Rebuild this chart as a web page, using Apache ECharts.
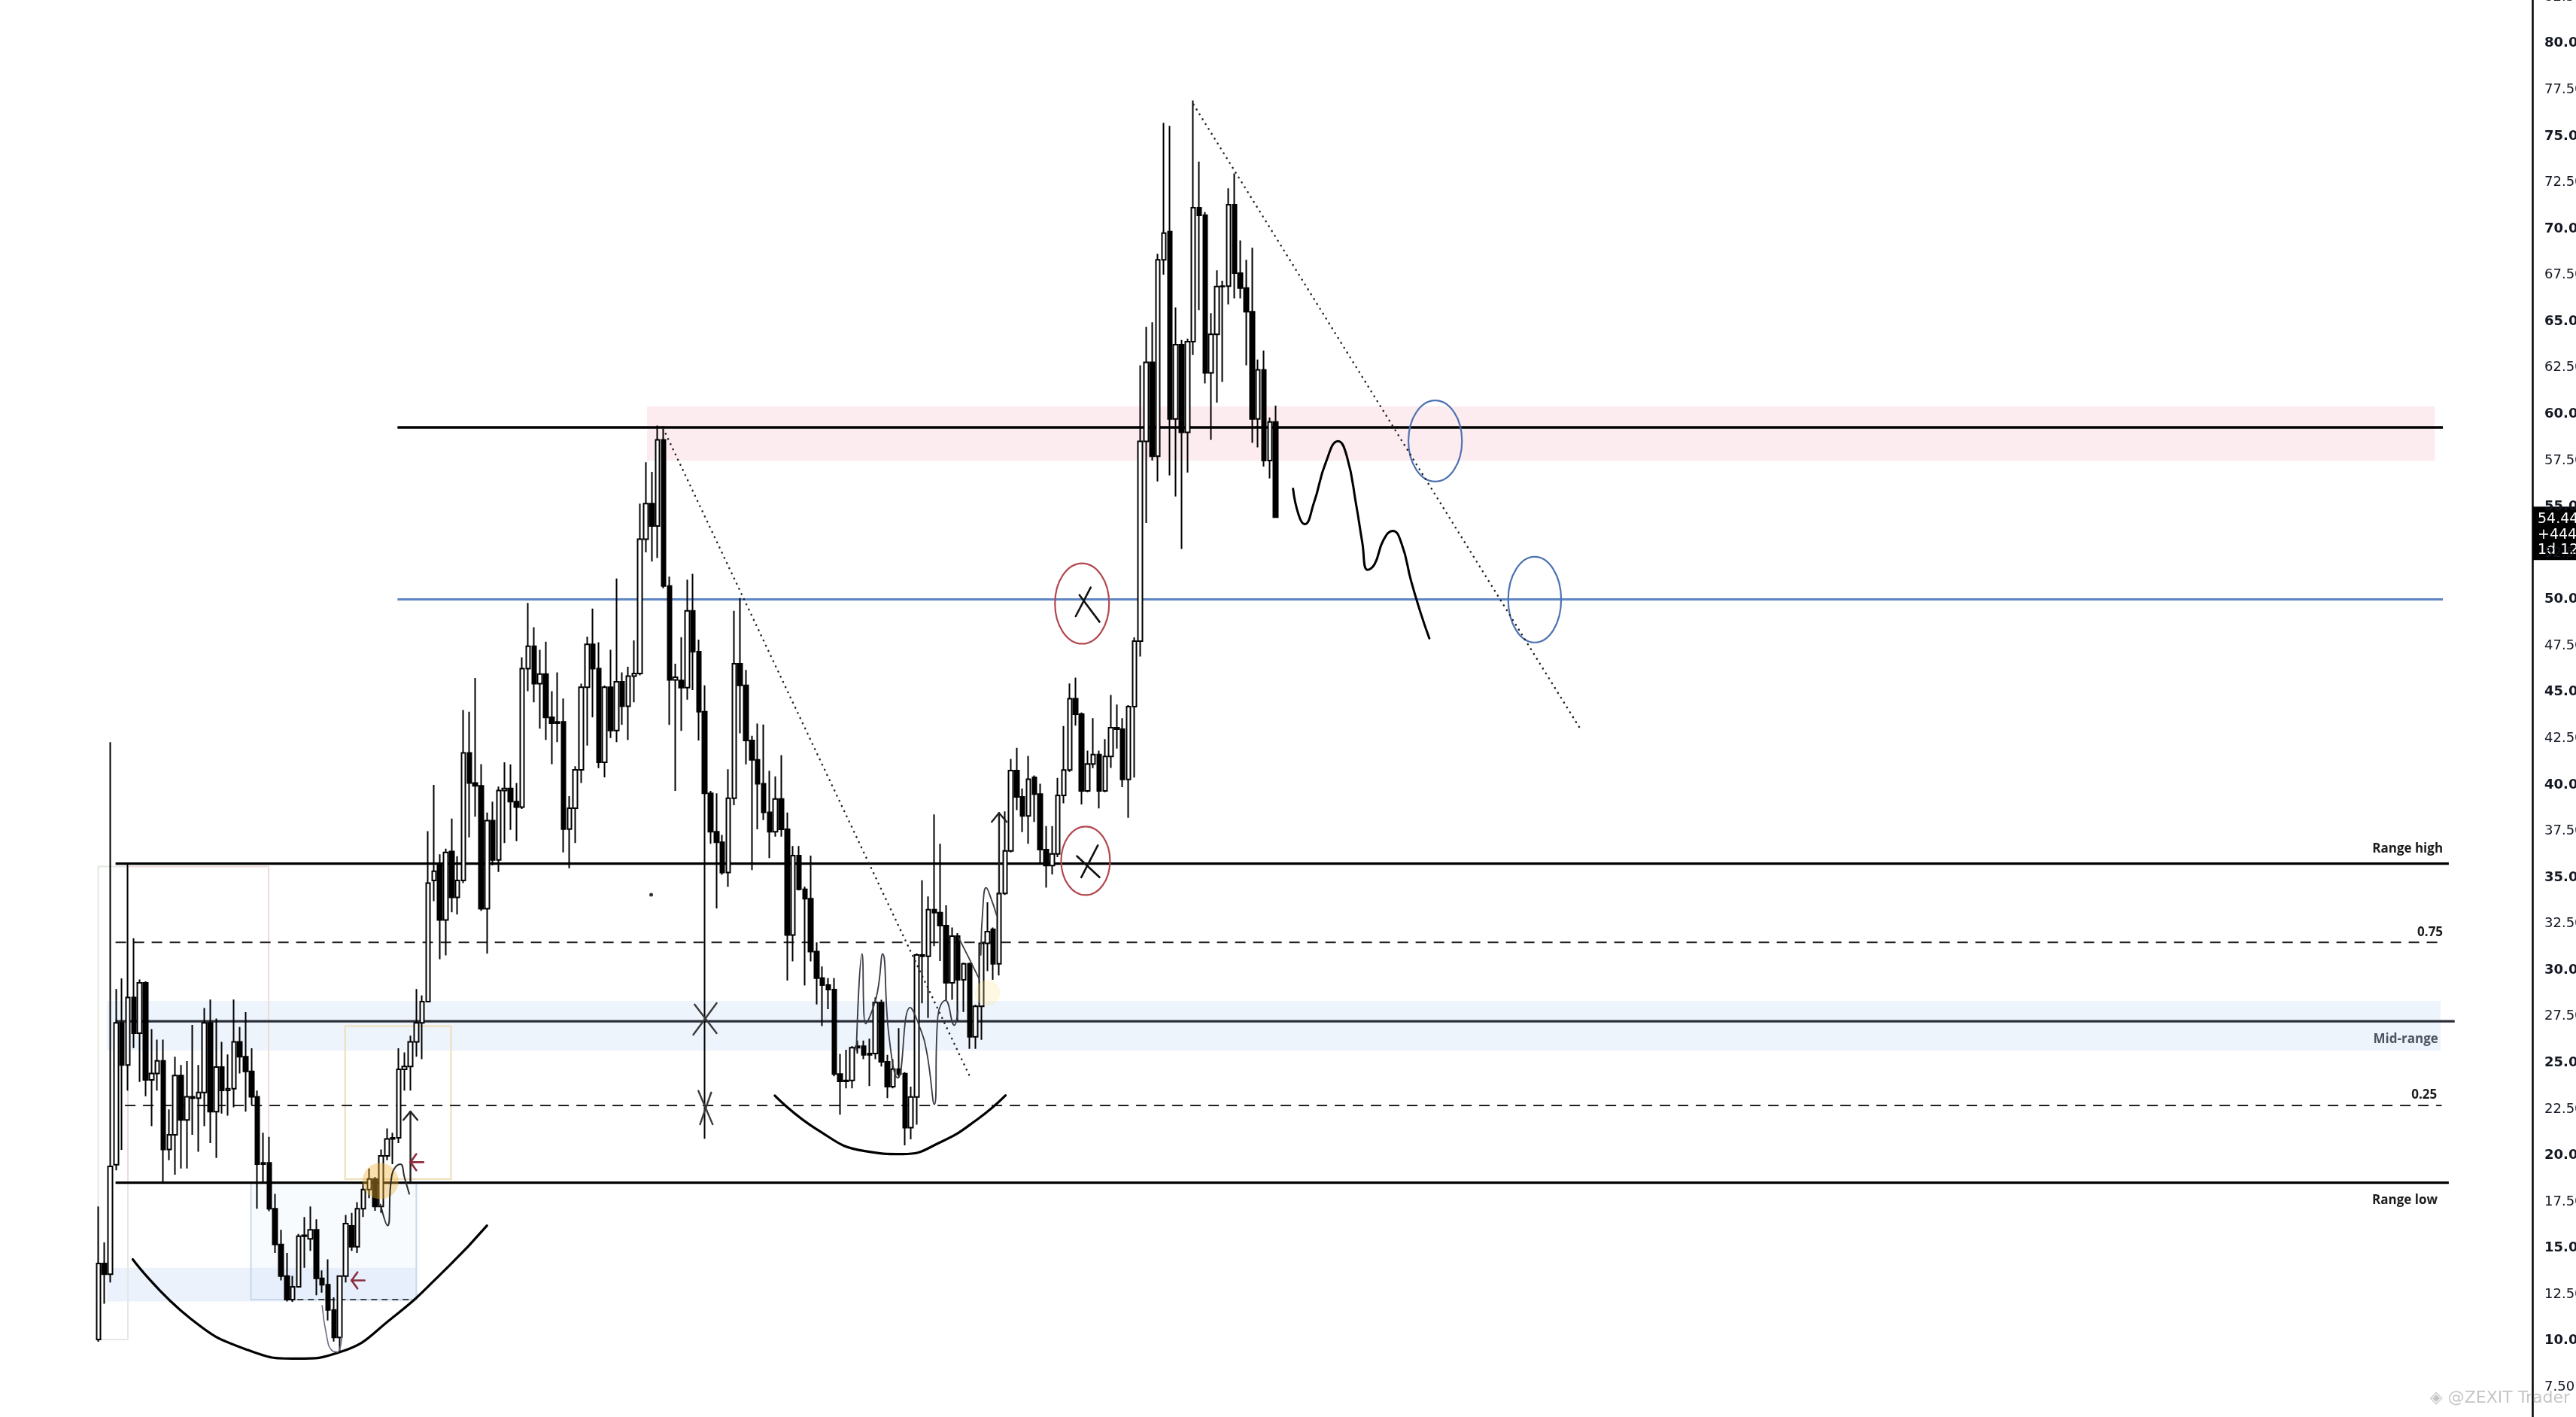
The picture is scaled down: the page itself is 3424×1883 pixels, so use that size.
<!DOCTYPE html>
<html><head><meta charset="utf-8">
<script src="https://cdn.jsdelivr.net/npm/echarts@6/dist/echarts.min.js"></script>
<style>html,body{margin:0;padding:0;background:#fff}#chart{width:3424px;height:1883px}</style>
</head><body><div id="chart"></div>
<script>
// ---- candles: [open, high, low, close] (daily) ----
const candles = [
[10.07,17.25,9.95,14.17],[14.17,15.31,12.0,13.6],[13.6,42.3,13.15,19.41],[19.5,28.98,19.2,27.16],[27.16,29.55,20.3,24.88],
[24.88,35.75,23.5,28.53],[28.53,31.72,25.8,26.6],[26.6,29.5,23.97,29.32],[29.32,29.4,23.2,24.08],[24.08,26.82,21.58,24.43],
[24.43,26.25,23.5,25.11],[25.11,26.25,18.53,20.32],[20.32,22.49,19.75,21.12],[21.12,25.33,18.96,24.31],[24.31,24.88,19.3,21.92],
[21.92,25.1,19.3,23.17],[23.17,27.04,21.12,23.1],[23.1,24.88,20.2,23.4],[23.4,27.96,21.58,27.16],[27.16,28.41,20.67,22.37],
[22.37,27.39,19.87,24.77],[24.77,26.13,22.26,23.51],[23.51,25.45,22.15,23.6],[23.6,28.41,22.6,26.13],[26.13,26.93,24.43,25.33],
[25.33,27.73,22.37,24.54],[24.54,25.79,22.72,23.17],[23.17,23.5,17.13,19.53],[19.53,21.23,18.5,19.6],[19.6,21.0,17.0,17.13],
[17.13,17.93,14.74,15.2],[15.2,15.99,13.26,13.49],[13.49,14.74,12.12,12.23],[12.23,13.5,12.1,12.92],[12.92,15.77,12.9,15.65],
[15.65,16.68,13.94,15.7],[15.5,17.25,14.85,15.99],[15.99,16.56,12.46,13.37],[13.37,13.8,12.6,13.03],[13.03,14.4,11.1,11.67],
[11.67,12.35,9.96,10.18],[10.18,13.5,9.39,13.49],[13.49,16.79,13.15,16.33],[16.2,16.9,14.85,15.08],[15.08,17.48,14.74,17.13],
[17.13,18.5,16.68,18.16],[18.16,19.3,17.7,18.73],[18.73,18.84,17.02,17.25],[17.25,20.32,16.9,19.98],[19.98,21.46,19.75,20.89],
[20.89,21.23,19.53,20.95],[20.95,25.79,20.67,24.65],[24.65,25.56,23.5,24.8],[24.8,26.47,23.5,26.13],[26.13,28.98,25.33,27.16],
[27.16,28.64,25.2,28.3],[28.3,37.5,28.3,34.7],[34.84,40.0,33.72,35.34],[35.65,36.25,30.59,32.71],[32.71,36.55,30.8,36.35],
[36.4,38.18,33.12,33.93],[33.93,36.15,33.0,34.84],[34.84,44.04,34.7,41.72],[41.72,43.94,37.16,40.1],[40.1,45.76,38.28,39.95],
[39.95,41.11,33.2,33.32],[33.32,38.5,30.89,38.07],[38.07,39.09,35.65,35.95],[35.95,39.9,35.3,39.69],[39.69,41.21,36.86,39.8],
[39.8,41.1,37.57,39.09],[39.09,40.1,36.96,38.8],[38.8,46.88,38.7,46.27],[46.27,49.81,45.05,47.48],[47.48,48.5,44.45,45.46],
[45.46,47.28,43.03,45.97],[45.97,47.72,42.42,43.64],[43.64,45.05,41.11,43.33],[43.33,46.07,42.3,43.4],[43.4,44.65,36.35,37.61],
[37.61,39.39,35.5,38.74],[38.74,41.0,36.86,40.81],[40.81,45.46,40.1,45.26],[45.26,47.99,42.12,47.58],[47.58,49.51,43.64,46.27],
[46.27,47.69,40.9,41.21],[41.21,45.36,40.4,45.26],[45.26,47.28,42.52,42.93],[42.93,51.13,42.3,45.56],[45.56,46.07,43.23,44.24],
[44.24,46.37,42.42,45.86],[45.86,47.79,44.45,46.0],[46.0,55.17,45.9,53.25],[53.25,57.4,52.54,55.17],[55.17,56.89,52.04,53.96],
[53.96,59.38,52.24,58.61],[58.61,59.35,50.6,50.72],[50.72,51.23,43.23,45.66],[45.66,46.53,39.67,45.8],[45.63,47.96,42.91,45.24],
[45.24,51.07,44.59,49.38],[49.38,51.38,45.11,47.18],[47.18,47.83,42.39,43.94],[43.94,45.37,20.9,39.54],[39.54,39.67,36.82,37.47],
[37.47,39.54,33.33,36.9],[36.9,37.3,35.14,35.27],[35.27,40.84,34.49,39.28],[39.28,49.38,38.9,46.53],[46.53,50.08,42.78,45.37],
[45.37,46.2,41.1,42.39],[42.39,42.65,35.4,41.35],[41.35,43.3,37.6,40.06],[40.06,43.25,38.1,38.51],[38.51,40.76,36.05,37.47],
[37.47,40.45,37.2,39.23],[39.23,41.6,37.2,37.6],[37.6,38.5,29.44,31.9],[31.9,36.7,30.48,36.18],[36.18,36.7,34.3,34.36],
[34.36,34.5,29.18,33.85],[33.85,36.18,30.48,31.0],[31.0,31.5,28.15,29.57],[29.57,30.2,26.98,29.2],[29.2,29.57,27.9,28.95],
[28.95,29.57,24.27,24.4],[24.4,25.48,22.2,24.0],[24.0,25.7,23.62,24.05],[24.05,25.9,23.62,25.82],[25.82,26.2,25.5,25.9],
[25.9,26.2,25.2,25.43],[25.43,26.3,23.75,25.5],[25.5,28.54,25.2,28.25],[28.25,28.4,24.8,25.05],[25.05,25.43,23.1,23.72],
[23.72,25.2,23.62,24.66],[24.66,26.87,24.2,24.4],[24.42,24.5,20.55,21.5],[21.5,23.71,20.87,23.16],[23.16,30.9,21.66,30.82],
[30.82,34.85,28.21,30.75],[30.75,33.98,27.42,33.27],[33.27,38.4,31.3,33.1],[33.1,36.82,30.5,32.4],[32.4,33.5,28.37,29.32],
[29.32,32.3,28.4,31.84],[31.84,32.0,27.26,29.48],[29.48,30.4,27.74,30.34],[30.34,30.4,25.76,26.4],[26.4,28.13,25.76,28.05],
[28.05,31.53,26.24,31.45],[31.45,33.66,29.95,32.08],[32.2,32.3,29.48,30.34],[30.34,34.2,29.71,34.14],[34.14,38.56,34.06,36.43],
[36.43,41.4,36.35,40.77],[40.77,42.0,38.64,39.35],[39.35,39.8,37.45,38.32],[38.32,41.56,36.82,40.3],[40.4,40.5,38.0,39.5],
[39.5,40.06,35.8,36.5],[36.5,37.77,34.45,35.64],[35.64,37.77,35.16,36.27],[36.27,40.37,36.1,39.43],[39.43,43.17,39.0,40.8],
[40.8,45.47,40.7,44.64],[44.64,45.78,43.19,43.81],[43.81,43.9,38.94,39.67],[39.67,41.84,39.6,41.12],[41.12,43.6,40.9,41.63],
[41.63,41.84,38.73,39.67],[39.67,42.46,39.6,41.53],[41.53,44.85,40.91,43.08],[43.08,44.33,41.95,43.0],[43.0,43.6,39.87,40.29],
[40.29,44.3,38.22,44.22],[44.22,47.95,40.39,47.75],[47.75,62.63,46.92,58.53],[58.53,64.71,54.12,62.79],[62.79,64.96,57.49,57.73],
[57.73,68.65,56.37,68.33],[68.33,75.71,67.52,69.77],[69.85,75.55,56.69,59.74],[59.74,65.76,55.56,63.75],[63.75,64.0,52.72,59.02],
[59.02,64.07,56.85,63.91],[63.91,76.92,63.19,71.14],[71.14,73.62,65.6,70.73],[70.73,70.9,61.66,62.23],[62.23,65.44,58.61,64.31],
[64.31,67.76,60.62,66.88],[66.88,67.2,61.74,66.9],[66.9,72.18,65.92,71.3],[71.3,72.98,66.24,67.6],[67.6,69.37,66.24,66.8],
[66.8,68.33,62.63,65.52],[65.52,68.97,58.45,59.74],[59.74,62.95,58.21,62.39],[62.39,63.43,57.17,57.49],[57.49,59.82,56.53,59.58],
[59.58,60.46,54.4,54.44]
];
const SLOTS = 414;                         // bar slots on the time axis (candles + empty future)
const categories = [];
for (let i = 0; i < SLOTS; i++) categories.push('D' + (i + 1));

// ---- horizontal levels ----
const resistanceLevel = 59.28;
const blueLevel = 50.0;
const rangeHigh = 35.75;
const level075 = 31.5;
const midRange = 27.24;
const level025 = 22.7;
const rangeLow = 18.53;
const resistanceSpan = [50.8, 398.3];
const rangeHighSpan = [2.9, 399.3];
const level075Span = [2.9, 398.0];
const midSpan = [2.9, 400.3];
const level025Span = [4.5, 398.1];
const rangeLowSpan = [2.9, 399.3];
const levelLabelTexts = ['Range high', '0.75', 'Mid-range', '0.25', 'Range low'];
const levelLabelAnchors = [[398.3, rangeHigh], [398.3, level075], [397.5, midRange], [397.3, level025], [397.4, rangeLow]];

// ---- zones [x1, y1, x2, y2] in bar index / price ----
const supplyZone = [[93.2, 57.48, 396.9, 60.42]];
const midZone = [[1.4, 25.66, 397.9, 28.34]];
const lowZone = [[1.4, 12.12, 54.0, 13.94]];
const greyBox = [[-0.05, 10.07, 5.0, 35.59]];
const pinkBox = [[5.0, 18.53, 28.9, 35.59]];
const blueBox = [[25.9, 12.23, 54.0, 18.53]];
const yellowBox = [[41.9, 18.73, 59.9, 26.98]];
const blueCircles = [[222.55, 56.36, 231.65, 60.74], [239.5, 47.68, 248.5, 52.3]];
const redCircles = [[162.5, 47.61, 171.7, 51.95], [163.55, 34.05, 171.85, 37.75]];
const highlightSpots = [[47.9, 18.62]];
const faintSpots = [[151.0, 28.77]];
const dotMark = [[93.9, 34.07]];

// ---- drawn strokes ----
const trendLineA = [[95.95, 59.22], [147.9, 24.35]];
const trendLineB = [[186.05, 76.7], [252.0, 42.89]];
const arcLeft = [[5.82,14.4],[15.6,11.21],[25.4,9.5],[33.7,9.04],[41.0,9.39],[49.8,11.21],[59.6,14.06],[66.0,16.22]];
const arcMid = [[114.9,23.23],[122,21.42],[130.2,20.24],[136.6,20.08],[143,20.71],[149.4,21.97],[154.1,23.24]];
const projectionPath = [[202.95,55.97],[203.9,54.56],[204.9,54.06],[206.5,55.22],[208.5,57.38],[210.6,58.54],[212.1,57.71],[213.7,55.06],[214.7,53.1],[215.6,51.6],[216.8,51.9],[218.3,53.2],[219.9,53.7],[221.4,53.0],[223.0,51.0],[224.6,49.3],[226.1,47.9]];
const squiggleA = [[128.75,25.69],[129.73,30.87],[130.33,27.11],[132.15,28.54],[133.22,30.87],[134.29,26.47],[135.8,24.18],[137.9,27.98],[139.4,27.03],[140.7,25.6],[142.0,22.76],[142.6,27.5],[143.9,28.37],[145.4,27.03],[146.0,27.82]];
const squiggleB = [[146.1,31.77],[147.8,30.7],[149.6,29.55]];
const squiggleC = [[149.9,30.82],[150.3,33.6],[150.8,34.45],[151.6,33.9],[152.6,32.95]];
const squiggleD = [[47.9,17.36],[49.1,16.22],[49.85,18.96],[51.3,19.53],[52.0,18.8],[52.8,17.93]];
const squiggleE = [[38.0,11.9],[38.8,10.2],[39.6,9.5],[40.6,9.4],[41.3,10.2]];
const crossMarks = [[101.06,26.52,105.02,28.22],[101.27,28.15,105.02,26.6],[101.91,23.49,104.34,21.68],[102.2,21.68,104.1,23.4]];
const circleCrosses = [[166.02,49.09,168.57,50.65],[166.66,50.24,170.07,48.79],[166.97,35.01,169.78,36.73],[166.24,36.15,170.07,35.01]];
const upArrows = [[53.0,18.61,53.0,22.37],[51.8,21.92,53.0,22.37],[53.0,22.37,54.2,21.92],[153.0,34.13,153.0,38.48],[151.75,38.0,153.0,38.48],[153.0,38.48,154.3,38.0]];
const redArrows = [[43.0,13.26,45.2,13.26],[43.0,13.26,44.0,13.7],[43.0,13.26,44.0,12.82],[53.0,19.64,55.2,19.64],[53.0,19.64,54.0,20.08],[53.0,19.64,54.0,19.2]];
const lowDashed = [[32.0, 12.23], [53.8, 12.23]];

const priceTagLines = ['54.44', '+444.00%', '1d 12h'];
const watermarkText = '◈ @ZEXIT Trader';

// ---------- helpers ----------
function hLine(v, span, color, width, type, z) {
  return { type: 'line', xAxisIndex: 1, yAxisIndex: 0, silent: true, symbol: 'none', z: z || 3,
    data: [[span[0], v], [span[1], v]], lineStyle: { color, width, type: type || 'solid' } };
}
function path(data, color, width, opts) {
  opts = opts || {};
  return { type: 'line', xAxisIndex: 1, yAxisIndex: 0, silent: true, symbol: 'none', z: opts.z || 6,
    smooth: opts.smooth === undefined ? 0.4 : opts.smooth, data,
    lineStyle: { color, width, type: opts.type || 'solid', cap: opts.cap || 'round', join: 'round' } };
}
function rects(rows, style, z) {
  return { type: 'custom', xAxisIndex: 1, yAxisIndex: 0, silent: true, z, data: rows,
    renderItem: (p, api) => {
      const a = api.coord([api.value(0), api.value(1)]), b = api.coord([api.value(2), api.value(3)]);
      return { type: 'rect', shape: { x: Math.min(a[0], b[0]), y: Math.min(a[1], b[1]),
        width: Math.abs(b[0] - a[0]), height: Math.abs(b[1] - a[1]) }, style };
    } };
}
function ellipses(rows, style, z) {
  return { type: 'custom', xAxisIndex: 1, yAxisIndex: 0, silent: true, z, data: rows,
    renderItem: (p, api) => {
      const a = api.coord([api.value(0), api.value(1)]), b = api.coord([api.value(2), api.value(3)]);
      return { type: 'ellipse', shape: { cx: (a[0] + b[0]) / 2, cy: (a[1] + b[1]) / 2,
        rx: Math.abs(b[0] - a[0]) / 2, ry: Math.abs(b[1] - a[1]) / 2 }, style };
    } };
}
function segments(rows, style, z) {
  return { type: 'custom', xAxisIndex: 1, yAxisIndex: 0, silent: true, z, data: rows,
    renderItem: (p, api) => {
      const a = api.coord([api.value(0), api.value(1)]), b = api.coord([api.value(2), api.value(3)]);
      return { type: 'line', shape: { x1: a[0], y1: a[1], x2: b[0], y2: b[1] }, style };
    } };
}
const labelDy = [-11, -5, 15, -5, 15];
const labelVAlign = ['bottom', 'bottom', 'top', 'bottom', 'top'];
const labelColor = ['#1c1c1c', '#1c1c1c', '#4d5360', '#1c1c1c', '#1c1c1c'];

const chart = echarts.init(document.getElementById('chart'), null, { renderer: 'canvas', width: 3424, height: 1883 });
const option = {
  animation: false,
  backgroundColor: '#ffffff',
  grid: { left: 127, right: 58, top: -65.45, bottom: -21.95, containLabel: false, outerBoundsMode: 'none' },
  xAxis: [
    { type: 'category', data: categories, boundaryGap: true, show: false },
    { type: 'value', min: -0.5, max: SLOTS - 0.5, show: false }
  ],
  yAxis: {
    type: 'value', position: 'right', min: 5, max: 85, interval: 2.5, scale: false,
    axisLine: { show: true, onZero: false, lineStyle: { color: '#000', width: 2.5 } },
    axisTick: { show: false }, splitLine: { show: false },
    axisLabel: {
      margin: 16, fontSize: 18, fontFamily: 'DejaVu Sans', color: '#131722',
      formatter: v => (Math.abs(v % 5) < 1e-9 ? '{b|' : '{n|') + v.toFixed(2) + '}',
      rich: {
        b: { fontWeight: 'bold', fontSize: 18, fontFamily: 'DejaVu Sans', color: '#131722' },
        n: { fontWeight: 'normal', fontSize: 18, fontFamily: 'DejaVu Sans', color: '#131722' }
      }
    }
  },
  series: [
    rects(supplyZone, { fill: 'rgba(242,120,140,0.14)' }, 1),
    rects(midZone, { fill: 'rgba(120,170,235,0.13)' }, 1),
    rects(lowZone, { fill: 'rgba(120,170,235,0.15)' }, 1),
    rects(greyBox, { fill: 'none', stroke: '#e3e9e2', lineWidth: 2 }, 2),
    rects(pinkBox, { fill: 'none', stroke: '#ecdbd9', lineWidth: 2 }, 2),
    rects(blueBox, { fill: 'rgba(200,220,245,0.12)', stroke: '#c7d8ec', lineWidth: 2 }, 2),
    rects(yellowBox, { fill: 'none', stroke: '#eee0bd', lineWidth: 2.2 }, 2),
    hLine(resistanceLevel, resistanceSpan, '#000', 3.5),
    hLine(blueLevel, resistanceSpan, '#5f86c4', 3),
    hLine(rangeHigh, rangeHighSpan, '#000', 3.2),
    hLine(level075, level075Span, '#222', 2, [14, 10]),
    hLine(midRange, midSpan, '#2a2e39', 3.2),
    hLine(level025, level025Span, '#222', 2, [14, 10]),
    hLine(rangeLow, rangeLowSpan, '#000', 3.2),
    path(lowDashed, '#333', 1.6, { type: [8, 6], smooth: false, cap: 'butt', z: 3 }),
    {
      type: 'candlestick', xAxisIndex: 0, yAxisIndex: 0, z: 4, silent: true, barWidth: 6,
      data: candles.map(c => [c[0], c[3], c[2], c[1]]),
      itemStyle: { color: '#ffffff', color0: '#000000', borderColor: '#000000', borderColor0: '#000000',
        borderColorDoji: '#000000', borderWidth: 2 }
    },
    { type: 'scatter', xAxisIndex: 1, yAxisIndex: 0, silent: true, z: 5, data: highlightSpots,
      symbol: 'circle', symbolSize: 48, itemStyle: { color: 'rgba(240,178,50,0.5)' } },
    { type: 'scatter', xAxisIndex: 1, yAxisIndex: 0, silent: true, z: 5, data: faintSpots,
      symbol: 'circle', symbolSize: 34, itemStyle: { color: 'rgba(250,228,150,0.35)' } },
    { type: 'scatter', xAxisIndex: 1, yAxisIndex: 0, silent: true, z: 6, data: dotMark,
      symbol: 'circle', symbolSize: 5, itemStyle: { color: '#000' } },
    path(trendLineA, '#222', 2.6, { type: [0.1, 7.5], smooth: false }),
    path(trendLineB, '#222', 2.6, { type: [0.1, 7.5], smooth: false }),
    path(arcLeft, '#000', 3.2, { smooth: 0.5 }),
    path(arcMid, '#000', 3.2, { smooth: 0.5 }),
    path(projectionPath, '#000', 3, { smooth: 0.5 }),
    path(squiggleA, '#3a3a44', 1.8, { smooth: 0.5 }),
    path(squiggleB, '#3a3a44', 1.8, { smooth: 0.5 }),
    path(squiggleC, '#3a3a44', 1.8, { smooth: 0.5 }),
    path(squiggleD, '#2a2a2a', 2, { smooth: 0.5 }),
    path(squiggleE, '#6d6a85', 1.6, { smooth: 0.5 }),
    ellipses(blueCircles, { fill: 'none', stroke: '#4e72b2', lineWidth: 2.2 }, 6),
    ellipses(redCircles, { fill: 'none', stroke: '#b2474f', lineWidth: 2.2 }, 6),
    segments(crossMarks, { stroke: '#3a3a3a', lineWidth: 2.4, lineCap: 'round' }, 6),
    segments(circleCrosses, { stroke: '#111', lineWidth: 2.6, lineCap: 'round' }, 6),
    segments(upArrows, { stroke: '#222', lineWidth: 2.4, lineCap: 'round' }, 6),
    segments(redArrows, { stroke: '#8d2c3d', lineWidth: 2.6, lineCap: 'round' }, 6),
    {
      type: 'custom', xAxisIndex: 1, yAxisIndex: 0, silent: true, z: 7, data: levelLabelAnchors,
      renderItem: (p, api) => {
        const i = p.dataIndex;
        const pt = api.coord([api.value(0), api.value(1)]);
        return { type: 'text', x: pt[0], y: pt[1] + labelDy[i],
          style: { text: levelLabelTexts[i], fill: labelColor[i], fontSize: 17, fontWeight: 'bold',
            fontFamily: 'Open Sans', align: 'right', textAlign: 'right',
            verticalAlign: labelVAlign[i], textVerticalAlign: labelVAlign[i] } };
      }
    }
  ]
};
chart.setOption(option);

const lastClose = candles[candles.length - 1][3];
const yLast = chart.convertToPixel({ yAxisIndex: 0 }, lastClose);
chart.setOption({
  graphic: [
    { type: 'group', z: 100, children: [
      { type: 'rect', shape: { x: 3367, y: yLast - 14, width: 70, height: 71 }, style: { fill: '#000' } },
      { type: 'text', x: 3373, y: yLast + 3, style: { text: priceTagLines[0], fill: '#fff', fontSize: 19, fontFamily: 'DejaVu Sans', verticalAlign: 'middle' } },
      { type: 'text', x: 3373, y: yLast + 24, style: { text: priceTagLines[1], fill: '#fff', fontSize: 19, fontFamily: 'DejaVu Sans', verticalAlign: 'middle' } },
      { type: 'text', x: 3373, y: yLast + 44, style: { text: priceTagLines[2], fill: '#fff', fontSize: 19, fontFamily: 'DejaVu Sans', verticalAlign: 'middle' } }
    ] },
    { type: 'text', z: 100, right: 8, bottom: 14,
      style: { text: watermarkText, fill: 'rgba(150,150,150,0.55)', fontSize: 22, fontFamily: 'DejaVu Sans' } }
  ]
});
</script>
</body></html>
